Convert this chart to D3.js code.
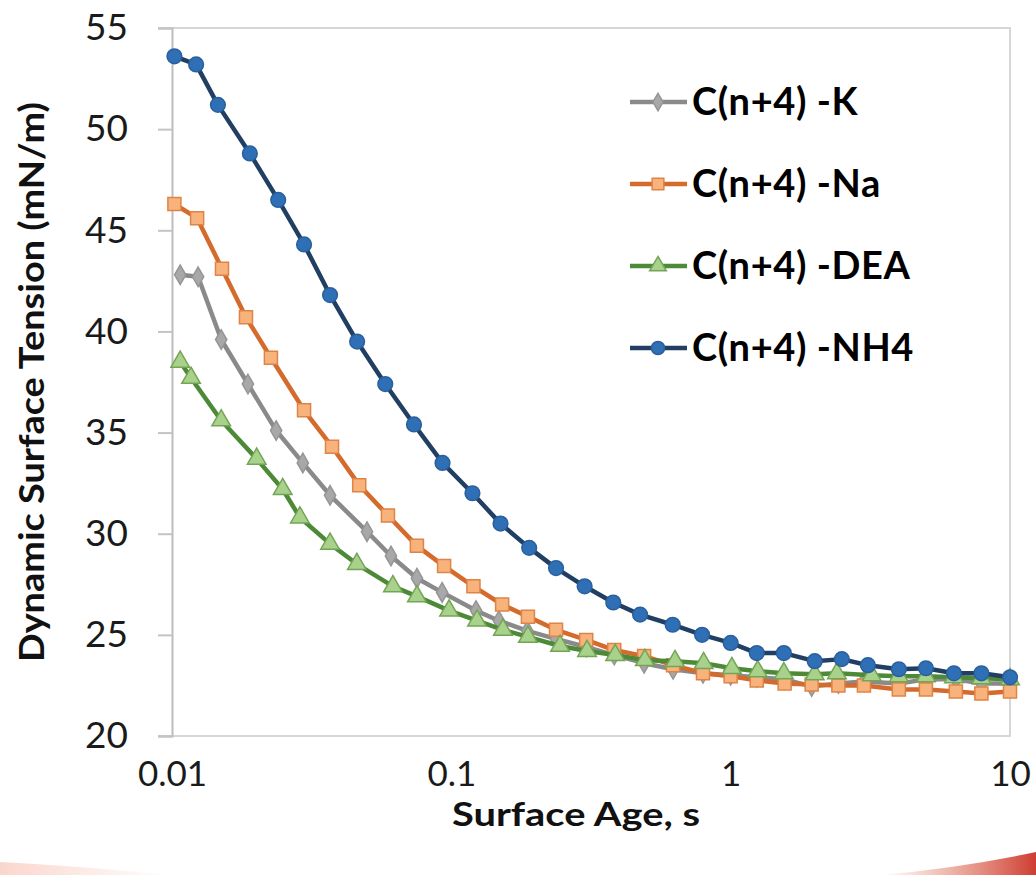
<!DOCTYPE html>
<html>
<head>
<meta charset="utf-8">
<script src="https://cdn.jsdelivr.net/npm/d3@7"></script>
<style>
  body { margin: 0; background: #fff; }
  svg { display: block; font-family: Lato, "Open Sans", sans-serif; }
</style>
</head>
<body>
<div id="chart"></div>
<script>
// series names (legend order = draw order)
var seriesNames = ["C(n+4) -K", "C(n+4) -Na", "C(n+4) -DEA", "C(n+4) -NH4"];

// surface age (s) and dynamic surface tension (mN/m)
var ageK = [0.0107, 0.0124, 0.0150, 0.0187, 0.0236, 0.0294, 0.0368, 0.0499, 0.0608, 0.0753, 0.0927, 0.1226, 0.148, 0.187, 0.237, 0.304, 0.383, 0.49, 0.622, 0.796, 1.0, 1.24, 1.56, 1.95, 2.43, 3.0, 4.0, 5.0, 6.4, 7.9, 10];
var tensionK = [42.8, 42.7, 39.6, 37.4, 35.1, 33.5, 31.9, 30.1, 28.9, 27.8, 27.1, 26.2, 25.7, 25.2, 24.8, 24.4, 24.0, 23.6, 23.3, 23.1, 23.0, 22.9, 22.8, 22.45, 22.6, 22.7, 22.6, 22.8, 22.8, 22.6, 22.6];

var ageNa = [0.0102, 0.0123, 0.0151, 0.0184, 0.0226, 0.0297, 0.0374, 0.0468, 0.0593, 0.0753, 0.0942, 0.120, 0.152, 0.188, 0.237, 0.304, 0.383, 0.49, 0.622, 0.796, 1.0, 1.24, 1.56, 1.95, 2.43, 3.0, 4.0, 5.0, 6.4, 7.9, 10];
var tensionNa = [46.3, 45.6, 43.1, 40.7, 38.7, 36.1, 34.3, 32.4, 30.9, 29.4, 28.4, 27.4, 26.5, 25.9, 25.25, 24.75, 24.25, 23.95, 23.5, 23.1, 22.95, 22.75, 22.6, 22.55, 22.5, 22.5, 22.3, 22.3, 22.2, 22.1, 22.2];

var ageDEA = [0.0107, 0.0117, 0.0150, 0.0201, 0.0249, 0.0287, 0.0368, 0.0459, 0.0618, 0.0753, 0.0982, 0.1236, 0.153, 0.188, 0.245, 0.306, 0.386, 0.493, 0.632, 0.80, 1.01, 1.25, 1.55, 2.0, 2.4, 3.2, 4.0, 5.0, 6.3, 7.9, 10];
var tensionDEA = [38.5, 37.7, 35.6, 33.7, 32.2, 30.8, 29.5, 28.5, 27.4, 26.9, 26.2, 25.7, 25.25, 24.9, 24.45, 24.2, 24.0, 23.75, 23.7, 23.6, 23.35, 23.2, 23.1, 23.05, 23.1, 23.0, 22.95, 22.95, 22.9, 22.85, 22.8];

var ageNH4 = [0.0102, 0.0122, 0.0146, 0.019, 0.024, 0.0297, 0.0368, 0.046, 0.058, 0.0735, 0.093, 0.119, 0.15, 0.19, 0.237, 0.30, 0.38, 0.474, 0.62, 0.79, 1.0, 1.24, 1.55, 2.0, 2.5, 3.1, 4.0, 5.0, 6.3, 7.9, 10];
var tensionNH4 = [53.6, 53.2, 51.2, 48.8, 46.5, 44.3, 41.8, 39.5, 37.4, 35.4, 33.5, 32.0, 30.5, 29.3, 28.3, 27.4, 26.6, 26.0, 25.5, 25.0, 24.6, 24.1, 24.1, 23.7, 23.8, 23.5, 23.3, 23.35, 23.1, 23.1, 22.9];

var xTicks = [0.01, 0.1, 1, 10];
var xTickLabels = ["0.01", "0.1", "1", "10"];
var yTicks = [20, 25, 30, 35, 40, 45, 50, 55];

var W = 1036, H = 875;
var m = {top: 28, right: 26, bottom: 139, left: 172};
var w = W - m.left - m.right, h = H - m.top - m.bottom;

var series = [
    {name: seriesNames[0], x: ageK, y: tensionK, line: "#8a8a8a", fill: "#a8a8a8", stroke: "#959595", sym: d3.symbolDiamond, size: 110},
    {name: seriesNames[1], x: ageNa, y: tensionNa, line: "#d46a2c", fill: "#f8b37c", stroke: "#de8446", sym: d3.symbolSquare, size: 170},
    {name: seriesNames[2], x: ageDEA, y: tensionDEA, line: "#4d8a38", fill: "#a8d18c", stroke: "#74a556", sym: d3.symbolTriangle, size: 150},
    {name: seriesNames[3], x: ageNH4, y: tensionNH4, line: "#213f62", fill: "#2f6fb6", stroke: "#2a5f9c", sym: d3.symbolCircle, size: 170}
];

var svg = d3.select("#chart").append("svg")
    .attr("width", W)
    .attr("height", H);

// faint slide decoration at the bottom edge
var defs = svg.append("defs");
var grad = defs.append("linearGradient").attr("id", "swoosh").attr("x1", 0).attr("x2", 1);
grad.append("stop").attr("offset", 0).attr("stop-color", "#e0603a").attr("stop-opacity", 0);
grad.append("stop").attr("offset", 1).attr("stop-color", "#c8281a").attr("stop-opacity", 0.9);
svg.append("path")
    .attr("d", "M880,875 Q960,868 1036,852 L1036,875 Z")
    .attr("fill", "url(#swoosh)");
var grad2 = defs.append("linearGradient").attr("id", "swoosh2").attr("x1", 0).attr("x2", 1);
grad2.append("stop").attr("offset", 0).attr("stop-color", "#f08a70").attr("stop-opacity", 0.35);
grad2.append("stop").attr("offset", 1).attr("stop-color", "#f08a70").attr("stop-opacity", 0);
svg.append("path")
    .attr("d", "M0,862 Q80,866 170,875 L0,875 Z")
    .attr("fill", "url(#swoosh2)");

var g = svg.append("g")
    .attr("transform", "translate(" + m.left + "," + m.top + ")");

var x = d3.scaleLog().domain([0.01, 10]).range([0, w]);
var y = d3.scaleLinear().domain([20, 55]).range([h, 0]);

// plot frame (top, right, bottom) in light gray
g.append("path")
    .attr("d", "M" + (-14) + ",0H" + w + "V" + h + "H" + (-14))
    .attr("fill", "none")
    .attr("stroke", "#d6d6d6")
    .attr("stroke-width", 2);

var yAxis = d3.axisLeft(y)
    .tickValues(yTicks)
    .tickSize(14)
    .tickPadding(30)
    .tickFormat(d3.format("d"));

var ya = g.append("g").attr("class", "y axis").call(yAxis);
ya.select(".domain").attr("stroke", "#bdbdbd").attr("stroke-width", 2);
ya.selectAll(".tick line").attr("stroke", "#c4c4c4").attr("stroke-width", 2);
ya.selectAll(".tick text")
    .attr("fill", "#1a1a1a")
    .style("font-size", "37px")
    .style("font-family", "Lato, sans-serif");

var xAxis = d3.axisBottom(x)
    .tickValues(xTicks)
    .tickSize(0)
    .tickPadding(25)
    .tickFormat(function(d, i) { return xTickLabels[i]; });

var xa = g.append("g").attr("class", "x axis")
    .attr("transform", "translate(0," + h + ")")
    .call(xAxis);
xa.select(".domain").remove();
xa.selectAll(".tick text")
    .attr("fill", "#1a1a1a")
    .style("font-size", "35px")
    .style("font-family", "Lato, sans-serif");

// axis titles
svg.append("text")
    .attr("transform", "translate(44," + (m.top + h / 2) + ") rotate(-90)")
    .attr("text-anchor", "middle")
    .attr("textLength", 560)
    .attr("lengthAdjust", "spacingAndGlyphs")
    .style("font-size", "35px")
    .style("font-weight", "bold")
    .attr("fill", "#111")
    .text("Dynamic Surface Tension (mN/m)");

svg.append("text")
    .attr("x", 576)
    .attr("y", 826)
    .attr("text-anchor", "middle")
    .attr("textLength", 248)
    .attr("lengthAdjust", "spacingAndGlyphs")
    .style("font-size", "33px")
    .style("font-weight", "bold")
    .attr("fill", "#111")
    .text("Surface Age, s");

var line = d3.line()
    .x(function(d) { return x(d[0]); })
    .y(function(d) { return y(d[1]); });

series.forEach(function(s) {
    var pts = s.x.map(function(v, i) { return [v, s.y[i]]; });

    g.append("path")
        .datum(pts)
        .attr("fill", "none")
        .attr("stroke", s.line)
        .attr("stroke-width", 4.5)
        .attr("stroke-linejoin", "round")
        .attr("d", line);

    g.selectAll(null)
        .data(pts)
        .enter().append("path")
        .attr("transform", function(d) { return "translate(" + x(d[0]) + "," + y(d[1]) + ")"; })
        .attr("d", d3.symbol().type(s.sym).size(s.size))
        .attr("fill", s.fill)
        .attr("stroke", s.stroke)
        .attr("stroke-width", 1.5);
});

// legend
var legY = [102, 184, 266, 348];
var leg = svg.append("g").selectAll("g")
    .data(series)
    .enter().append("g")
    .attr("transform", function(d, i) { return "translate(630," + legY[i] + ")"; });

leg.append("line")
    .attr("x1", 0).attr("x2", 57)
    .attr("stroke", function(d) { return d.line; })
    .attr("stroke-width", 4.5);

leg.append("path")
    .attr("transform", "translate(28,0)")
    .attr("d", function(d) { return d3.symbol().type(d.sym).size(d.size * 0.8)(); })
    .attr("fill", function(d) { return d.fill; })
    .attr("stroke", function(d) { return d.stroke; })
    .attr("stroke-width", 1.5);

leg.append("text")
    .attr("x", 62)
    .attr("y", 13)
    .style("font-size", "38px")
    .style("font-weight", "bold")
    .style("letter-spacing", "0.6px")
    .attr("fill", "#000")
    .text(function(d) { return d.name; });
</script>
</body>
</html>
